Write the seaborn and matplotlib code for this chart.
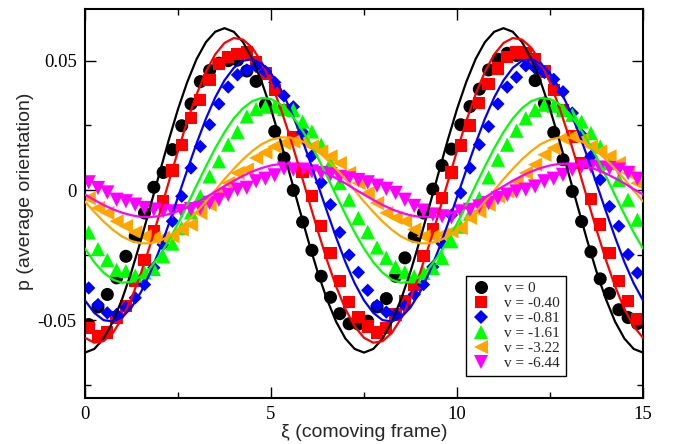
import numpy as np
import pandas as pd
import matplotlib
matplotlib.use("Agg")
import matplotlib.pyplot as plt
from matplotlib.lines import Line2D
import seaborn as sns

# ---------------- data ----------------
series_labels = ["v = 0", "v = -0.40", "v = -0.81", "v = -1.61", "v = -3.22", "v = -6.44"]
series_colors = ["#000000", "#ff0000", "#0000ff", "#00ff00", "#ffa500", "#ff00ff"]
series_markers = ["o", "s", "D", "^", "<", "v"]
marker_areas = [88, 78, 46, 105, 105, 105]

# sampled positions of the symbols (comoving frame)
xi_points = np.round(np.arange(60) * 0.25 + 0.1, 3)
# positions where the model curves were read
xi_curve = np.round(np.arange(61) * 0.25, 3)

pts_v0 = [-0.0517, -0.0449, -0.0401, -0.0337, -0.0254, -0.0177, -0.0087, 0.0012, 0.0069, 0.0157,
          0.0249, 0.0333, 0.0419, 0.0462, 0.0490, 0.0500, 0.0502, 0.0460, 0.0420, 0.0330,
          0.0227, 0.0125, 0.0000, -0.0122, -0.0231, -0.0331, -0.0412, -0.0475, -0.0514, -0.0515,
          -0.0504, -0.0449, -0.0417, -0.0331, -0.0260, -0.0177, -0.0087, 0.0005, 0.0096, 0.0159,
          0.0253, 0.0323, 0.0390, 0.0464, 0.0505, 0.0528, 0.0520, 0.0515, 0.0423, 0.0336,
          0.0223, 0.0118, -0.0004, -0.0120, -0.0237, -0.0341, -0.0397, -0.0460, -0.0490, -0.0513]
pts_v040 = [-0.0529, -0.0561, -0.0548, -0.0490, -0.0446, -0.0350, -0.0267, -0.0158, -0.0040, 0.0077,
            0.0176, 0.0278, 0.0349, 0.0426, 0.0487, 0.0515, 0.0526, 0.0531, 0.0496, 0.0450,
            0.0388, 0.0310, 0.0205, 0.0070, -0.0023, -0.0136, -0.0242, -0.0348, -0.0430, -0.0488,
            -0.0525, -0.0548, -0.0529, -0.0478, -0.0427, -0.0363, -0.0254, -0.0151, -0.0030, 0.0069,
            0.0173, 0.0250, 0.0336, 0.0410, 0.0470, 0.0515, 0.0531, 0.0528, 0.0505, 0.0458,
            0.0387, 0.0310, 0.0208, 0.0105, -0.0033, -0.0132, -0.0241, -0.0350, -0.0427, -0.0497]
pts_v081 = [-0.0376, -0.0440, -0.0472, -0.0478, -0.0452, -0.0414, -0.0363, -0.0298, -0.0209, -0.0119,
            -0.0023, 0.0086, 0.0169, 0.0253, 0.0333, 0.0398, 0.0445, 0.0464, 0.0477, 0.0458,
            0.0416, 0.0364, 0.0322, 0.0224, 0.0133, 0.0030, -0.0055, -0.0162, -0.0249, -0.0316,
            -0.0385, -0.0443, -0.0469, -0.0478, -0.0446, -0.0401, -0.0363, -0.0295, -0.0205, -0.0095,
            -0.0010, 0.0086, 0.0176, 0.0246, 0.0333, 0.0398, 0.0436, 0.0480, 0.0471, 0.0454,
            0.0428, 0.0380, 0.0298, 0.0214, 0.0131, 0.0041, -0.0062, -0.0138, -0.0247, -0.0318]
pts_v161 = [-0.0162, -0.0226, -0.0268, -0.0306, -0.0311, -0.0328, -0.0316, -0.0303, -0.0254, -0.0205,
            -0.0145, -0.0085, -0.0023, 0.0054, 0.0112, 0.0176, 0.0225, 0.0285, 0.0313, 0.0323,
            0.0323, 0.0313, 0.0310, 0.0265, 0.0227, 0.0176, 0.0105, 0.0028, -0.0036, -0.0106,
            -0.0160, -0.0220, -0.0260, -0.0295, -0.0315, -0.0331, -0.0318, -0.0299, -0.0260, -0.0196,
            -0.0140, -0.0090, -0.0030, 0.0050, 0.0118, 0.0176, 0.0230, 0.0278, 0.0310, 0.0330,
            0.0326, 0.0310, 0.0291, 0.0265, 0.0221, 0.0169, 0.0105, 0.0040, -0.0036, -0.0113]
pts_v322 = [-0.0030, -0.0068, -0.0087, -0.0119, -0.0138, -0.0162, -0.0177, -0.0183, -0.0183, -0.0177,
            -0.0151, -0.0132, -0.0087, -0.0055, -0.0004, 0.0028, 0.0067, 0.0080, 0.0125, 0.0146,
            0.0169, 0.0182, 0.0188, 0.0188, 0.0169, 0.0150, 0.0131, 0.0105, 0.0067, 0.0028,
            -0.0010, -0.0049, -0.0087, -0.0106, -0.0119, -0.0151, -0.0177, -0.0177, -0.0170, -0.0158,
            -0.0145, -0.0106, -0.0081, -0.0055, -0.0023, -0.0004, 0.0035, 0.0067, 0.0099, 0.0137,
            0.0163, 0.0201, 0.0208, 0.0195, 0.0169, 0.0150, 0.0131, 0.0105, 0.0067, 0.0028]
pts_v644 = [0.0031, 0.0009, -0.0008, -0.0036, -0.0042, -0.0055, -0.0068, -0.0074, -0.0080, -0.0081,
            -0.0080, -0.0072, -0.0068, -0.0048, -0.0036, -0.0017, 0.0003, 0.0010, 0.0035, 0.0045,
            0.0058, 0.0084, 0.0080, 0.0080, 0.0073, 0.0067, 0.0062, 0.0052, 0.0046, 0.0040,
            0.0031, 0.0018, 0.0006, -0.0010, -0.0036, -0.0060, -0.0078, -0.0093, -0.0100, -0.0104,
            -0.0081, -0.0075, -0.0062, -0.0049, -0.0030, -0.0017, -0.0004, 0.0003, 0.0015, 0.0035,
            0.0045, 0.0060, 0.0080, 0.0092, 0.0092, 0.0088, 0.0086, 0.0080, 0.0067, 0.0045]

curve_v0 = [-0.0625, -0.0611, -0.0571, -0.0506, -0.0418, -0.0313, -0.0193, -0.0065, 0.0065, 0.0193,
            0.0313, 0.0418, 0.0506, 0.0571, 0.0611, 0.0625, 0.0611, 0.0571, 0.0506, 0.0418,
            0.0313, 0.0193, 0.0065, -0.0065, -0.0193, -0.0313, -0.0418, -0.0506, -0.0571, -0.0611,
            -0.0625, -0.0611, -0.0571, -0.0506, -0.0418, -0.0313, -0.0193, -0.0065, 0.0065, 0.0193,
            0.0313, 0.0418, 0.0506, 0.0571, 0.0611, 0.0625, 0.0611, 0.0571, 0.0506, 0.0418,
            0.0313, 0.0193, 0.0065, -0.0065, -0.0193, -0.0313, -0.0418, -0.0506, -0.0571, -0.0611,
            -0.0625]
curve_v040 = [-0.0568, -0.0587, -0.0581, -0.0549, -0.0493, -0.0416, -0.0320, -0.0211, -0.0092, 0.0031,
              0.0152, 0.0267, 0.0370, 0.0457, 0.0524, 0.0568, 0.0587, 0.0581, 0.0549, 0.0493,
              0.0416, 0.0320, 0.0211, 0.0092, -0.0031, -0.0152, -0.0267, -0.0370, -0.0457, -0.0524,
              -0.0568, -0.0587, -0.0581, -0.0549, -0.0493, -0.0416, -0.0320, -0.0211, -0.0092, 0.0031,
              0.0152, 0.0267, 0.0370, 0.0457, 0.0524, 0.0568, 0.0587, 0.0581, 0.0549, 0.0493,
              0.0416, 0.0320, 0.0211, 0.0092, -0.0031, -0.0152, -0.0267, -0.0370, -0.0457, -0.0524,
              -0.0568]
curve_v081 = [-0.0424, -0.0472, -0.0500, -0.0505, -0.0489, -0.0451, -0.0393, -0.0318, -0.0230, -0.0131,
              -0.0026, 0.0079, 0.0181, 0.0276, 0.0358, 0.0424, 0.0472, 0.0500, 0.0505, 0.0489,
              0.0451, 0.0393, 0.0318, 0.0230, 0.0131, 0.0026, -0.0079, -0.0181, -0.0276, -0.0358,
              -0.0424, -0.0472, -0.0500, -0.0505, -0.0489, -0.0451, -0.0393, -0.0318, -0.0230, -0.0131,
              -0.0026, 0.0079, 0.0181, 0.0276, 0.0358, 0.0424, 0.0472, 0.0500, 0.0505, 0.0489,
              0.0451, 0.0393, 0.0318, 0.0230, 0.0131, 0.0026, -0.0079, -0.0181, -0.0276, -0.0358,
              -0.0424]
curve_v161 = [-0.0224, -0.0277, -0.0317, -0.0344, -0.0356, -0.0352, -0.0332, -0.0299, -0.0252, -0.0194,
              -0.0128, -0.0056, 0.0019, 0.0092, 0.0162, 0.0224, 0.0277, 0.0317, 0.0344, 0.0356,
              0.0352, 0.0332, 0.0299, 0.0252, 0.0194, 0.0128, 0.0056, -0.0019, -0.0092, -0.0162,
              -0.0224, -0.0277, -0.0317, -0.0344, -0.0356, -0.0352, -0.0332, -0.0299, -0.0252, -0.0194,
              -0.0128, -0.0056, 0.0019, 0.0092, 0.0162, 0.0224, 0.0277, 0.0317, 0.0344, 0.0356,
              0.0352, 0.0332, 0.0299, 0.0252, 0.0194, 0.0128, 0.0056, -0.0019, -0.0092, -0.0162,
              -0.0224]
curve_v322 = [-0.0043, -0.0083, -0.0120, -0.0152, -0.0178, -0.0195, -0.0204, -0.0204, -0.0195, -0.0178,
              -0.0152, -0.0120, -0.0083, -0.0043, 0.0000, 0.0043, 0.0083, 0.0120, 0.0152, 0.0178,
              0.0195, 0.0204, 0.0204, 0.0195, 0.0178, 0.0152, 0.0120, 0.0083, 0.0043, 0.0000,
              -0.0043, -0.0083, -0.0120, -0.0152, -0.0178, -0.0195, -0.0204, -0.0204, -0.0195, -0.0178,
              -0.0152, -0.0120, -0.0083, -0.0043, 0.0000, 0.0043, 0.0083, 0.0120, 0.0152, 0.0178,
              0.0195, 0.0204, 0.0204, 0.0195, 0.0178, 0.0152, 0.0120, 0.0083, 0.0043, 0.0000,
              -0.0043]
curve_v644 = [-0.0016, -0.0037, -0.0056, -0.0073, -0.0086, -0.0096, -0.0102, -0.0103, -0.0099, -0.0092,
              -0.0080, -0.0065, -0.0047, -0.0027, -0.0005, 0.0016, 0.0037, 0.0056, 0.0073, 0.0086,
              0.0096, 0.0102, 0.0103, 0.0099, 0.0092, 0.0080, 0.0065, 0.0047, 0.0027, 0.0005,
              -0.0016, -0.0037, -0.0056, -0.0073, -0.0086, -0.0096, -0.0102, -0.0103, -0.0099, -0.0092,
              -0.0080, -0.0065, -0.0047, -0.0027, -0.0005, 0.0016, 0.0037, 0.0056, 0.0073, 0.0086,
              0.0096, 0.0102, 0.0103, 0.0099, 0.0092, 0.0080, 0.0065, 0.0047, 0.0027, 0.0005,
              -0.0016]

x_ticks = [0, 5, 10, 15]
x_tick_labels = ["0", "5", "10", "15"]
y_ticks = [-0.05, 0.0, 0.05]
y_tick_labels = ["-0.05", "0", "0.05"]
x_label = "ξ (comoving frame)"
y_label = "p (average orientation)"

points = [pts_v0, pts_v040, pts_v081, pts_v161, pts_v322, pts_v644]
curves = [curve_v0, curve_v040, curve_v081, curve_v161, curve_v322, curve_v644]

df_pts = pd.concat([pd.DataFrame({"xi": xi_points, "p": vals, "series": lab})
                    for lab, vals in zip(series_labels, points)], ignore_index=True)
df_cur = pd.concat([pd.DataFrame({"xi": xi_curve, "p": vals, "series": lab})
                    for lab, vals in zip(series_labels, curves)], ignore_index=True)

palette = dict(zip(series_labels, series_colors))
marker_map = dict(zip(series_labels, series_markers))
size_map = dict(zip(series_labels, marker_areas))

# ---------------- plot ----------------
sns.set_theme(style="white")
plt.rcParams["font.family"] = ["Liberation Serif", "DejaVu Serif"]

fig = plt.figure(figsize=(6.74, 4.44), dpi=100)
ax = fig.add_axes([85 / 674, 1 - 398 / 444, 558 / 674, 389.3 / 444])

sns.scatterplot(data=df_pts, x="xi", y="p", hue="series", style="series", size="series",
                palette=palette, markers=marker_map, sizes=size_map, linewidth=0,
                legend=False, ax=ax, zorder=2)
sns.lineplot(data=df_cur, x="xi", y="p", hue="series", palette=palette, estimator=None,
             sort=True, linewidth=1.6, legend=False, ax=ax, zorder=3)

ax.set_xlim(0, 15)
ax.set_ylim(-0.08, 0.07)
ax.set_xticks(x_ticks)
ax.set_xticklabels(x_tick_labels)
ax.set_yticks(y_ticks)
ax.set_yticklabels(y_tick_labels)
ax.xaxis.set_minor_locator(matplotlib.ticker.MultipleLocator(2.5))
ax.yaxis.set_minor_locator(matplotlib.ticker.MultipleLocator(0.025))
ax.tick_params(which="both", direction="in", top=True, right=True, bottom=True, left=True,
               colors="black", width=1.0)
ax.tick_params(which="major", length=8, labelsize=13.5, pad=6)
ax.tick_params(which="minor", length=4.5)
for sp in ax.spines.values():
    sp.set_linewidth(1.5)
    sp.set_color("black")

ax.set_xlabel(x_label, fontsize=14, family=["Liberation Sans", "DejaVu Sans"])
ax.set_ylabel(y_label, fontsize=14, family=["Liberation Sans", "DejaVu Sans"])
ax.xaxis.label.set_va("center")
ax.xaxis.set_label_coords(0.5, (398 - 432) / 389.3)
ax.yaxis.label.set_va("center")
ax.yaxis.set_label_coords((26 - 85) / 558, 0.53)

handles = [Line2D([], [], linestyle="none", marker=m, color=c, markeredgewidth=0,
                  markersize=np.sqrt(a))
           for m, c, a in zip(series_markers, series_colors, marker_areas)]
leg = ax.legend(handles, series_labels, loc="lower right",
                bbox_to_anchor=((566 - 85) / 558, (398 - 376) / 389.3),
                borderaxespad=0, fontsize=11, frameon=True, fancybox=False,
                framealpha=1, edgecolor="black", handlelength=1.2, handletextpad=0.9,
                labelspacing=0.08, borderpad=0.4)
leg.get_frame().set_linewidth(1.0)

fig.savefig("out.png", dpi=100)
